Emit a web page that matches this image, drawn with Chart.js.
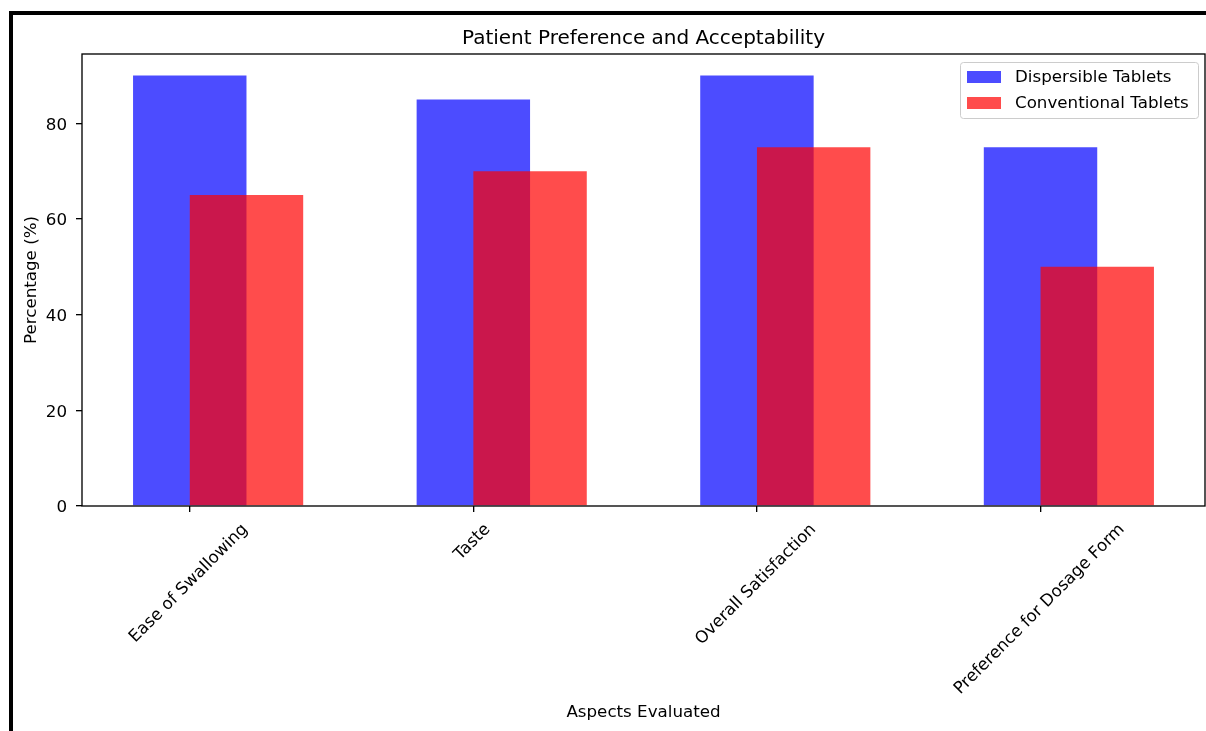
<!DOCTYPE html>
<html><head><meta charset="utf-8">
<script src="https://cdn.jsdelivr.net/npm/chart.js@4.4.0/dist/chart.umd.min.js"></script>
<style>
html,body{margin:0;padding:0;background:#fff;overflow:hidden;width:1206px;height:731px;}
#wrap{position:absolute;left:0;top:0;width:1206px;height:731px;}
#frame{position:absolute;left:9px;top:11px;width:1400px;height:1000px;border-left:4px solid #000;border-top:4px solid #000;pointer-events:none;}
</style></head><body>
<div id="wrap"><canvas id="c" width="1206" height="731"></canvas></div>
<div id="frame"></div>
<script>
// ---- data ----
const categories = ['Ease of Swallowing', 'Taste', 'Overall Satisfaction', 'Preference for Dosage Form'];
const dispersible = [90, 85, 90, 75];
const conventional = [65, 70, 75, 50];
const seriesNames = ['Dispersible Tablets', 'Conventional Tablets'];
const yTicks = [0, 20, 40, 60, 80];
const chartTitle = 'Patient Preference and Acceptability';
const xTitle = 'Aspects Evaluated';
const yTitle = 'Percentage (%)';

// ---- style ----
const FONT = '"DejaVu Sans", sans-serif';
const FS = 16.7;
const BAR_WIDTH = 0.4;
const blue = 'rgba(0,0,255,0.7)';
const red = 'rgba(255,0,0,0.7)';
const TICK_LEN = 6;

const n = categories.length;
const lo = -BAR_WIDTH / 2, hi = (n - 1) + BAR_WIDTH;
const xMargin = 0.05 * (hi - lo);
const yMax = Math.max(...dispersible, ...conventional) * 1.05;

Chart.defaults.font.family = FONT;
Chart.defaults.color = '#000';

const spines = {
  id: 'spines',
  afterDatasetsDraw(chart) {
    const {ctx, chartArea: a} = chart;
    ctx.save();
    ctx.strokeStyle = '#000';
    ctx.lineWidth = 1.33;
    ctx.strokeRect(a.left, a.top, a.right - a.left, a.bottom - a.top);
    ctx.restore();
  }
};

const xLabels = {
  id: 'xLabels',
  afterDraw(chart) {
    const {ctx, chartArea: a} = chart;
    const xs = chart.scales.x;
    ctx.save();
    ctx.font = FS + 'px ' + FONT;
    ctx.fillStyle = '#000';
    categories.forEach((lab, i) => {
      const px = xs.getPixelForValue(i);
      const w = ctx.measureText(lab).width;
      const side = (w + FS * 1.17) * Math.SQRT1_2;
      const top = a.bottom + 14;
      ctx.save();
      ctx.translate(px - 1, top + side / 2);
      ctx.rotate(-Math.PI / 4);
      ctx.textAlign = 'center';
      ctx.textBaseline = 'middle';
      ctx.fillText(lab, 0, 0);
      ctx.restore();
    });
    ctx.restore();
  }
};

const legendBox = {
  id: 'legendBox',
  afterDraw(chart) {
    const {ctx, chartArea: a} = chart;
    ctx.save();
    ctx.font = FS + 'px ' + FONT;
    const tw = Math.max(...seriesNames.map(s => ctx.measureText(s).width));
    const pad = 7, hl = 34, hp = 14;
    const right = a.right - 7, top = a.top + 8;
    const left = a.right - 245;
    const w = right - left;
    const h = 56;
    ctx.beginPath();
    ctx.roundRect(left + 0.5, top + 0.5, w, h, 3);
    ctx.fillStyle = 'rgba(255,255,255,0.8)';
    ctx.fill();
    ctx.strokeStyle = '#cccccc';
    ctx.lineWidth = 1;
    ctx.stroke();
    const colors = [blue, red];
    seriesNames.forEach((s, i) => {
      const cy = top + 15 + i * 26;
      ctx.fillStyle = colors[i];
      ctx.fillRect(left + pad, cy - 6, hl, 12);
      ctx.fillStyle = '#000';
      ctx.textBaseline = 'middle';
      ctx.textAlign = 'left';
      ctx.fillText(s, left + pad + hl + hp, cy + 1);
    });
    ctx.restore();
  }
};

new Chart(document.getElementById('c'), {
  type: 'bar',
  data: {
    datasets: [
      {
        label: seriesNames[0],
        data: dispersible.map((v, i) => ({x: i, y: v})),
        backgroundColor: blue,
        borderWidth: 0,
        grouped: false,
        order: 1
      },
      {
        label: seriesNames[1],
        data: conventional.map((v, i) => ({x: i + BAR_WIDTH / 2, y: v})),
        backgroundColor: red,
        borderWidth: 0,
        grouped: false,
        order: 0
      }
    ]
  },
  options: {
    responsive: false,
    animation: false,
    devicePixelRatio: 1,
    categoryPercentage: 1,
    barPercentage: 2,
    layout: {padding: {left: 0, right: 1, top: 0, bottom: 0}},
    plugins: {
      legend: {display: false},
      tooltip: {enabled: false},
      title: {
        display: true,
        text: chartTitle,
        fullSize: false,
        color: '#000',
        font: {size: 20, weight: 'normal', family: FONT},
        padding: {top: 27, bottom: 3}
      }
    },
    scales: {
      x: {
        type: 'linear',
        offset: false,
        min: lo - xMargin,
        max: hi + xMargin,
        afterBuildTicks: s => { s.ticks = categories.map((c, i) => ({value: i})); },
        afterFit: s => { s.height = 225; },
        ticks: {display: false},
        grid: {display: true, offset: false, drawOnChartArea: false, drawTicks: true, tickLength: TICK_LEN, tickColor: '#000', lineWidth: 1.33},
        border: {display: false},
        title: {display: true, text: xTitle, color: '#000', font: {size: FS, family: FONT}, padding: {top: 0, bottom: 8}}
      },
      y: {
        type: 'linear',
        min: 0,
        max: yMax,
        afterBuildTicks: s => { s.ticks = yTicks.map(v => ({value: v})); },
        afterFit: s => { s.width = 82; },
        ticks: {color: '#000', font: {size: FS, family: FONT}, padding: 9, labelOffset: 2},
        grid: {display: true, drawOnChartArea: false, drawTicks: true, tickLength: TICK_LEN, tickColor: '#000', lineWidth: 1.33},
        border: {display: false},
        title: {display: true, text: yTitle, color: '#000', font: {size: FS, family: FONT}, padding: {top: 22, bottom: 0}}
      }
    }
  },
  plugins: [spines, xLabels, legendBox]
});
</script>
</body></html>
